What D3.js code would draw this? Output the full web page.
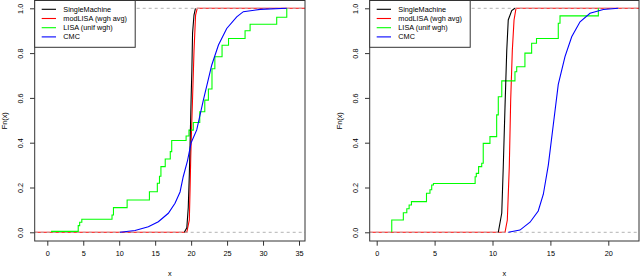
<!DOCTYPE html>
<html>
<head>
<meta charset="utf-8">
<script src="https://cdn.jsdelivr.net/npm/d3@7"></script>
<style>
body { margin: 0; background: #fff; }
svg { display: block; }
text { font-family: "Liberation Sans", Arial, sans-serif; font-size: 7.3px; fill: #000; }
</style>
</head>
<body>
<svg id="chart" width="640" height="277"></svg>
<script>
// series names and colours (legend order)
var seriesNames = ['SingleMachine', 'modLISA (wgh avg)', 'LISA (unif wgh)', 'CMC'];
var seriesColors = ['black', 'red', '#00ff00', 'blue'];
var yTicks = [0, 0.2, 0.4, 0.6, 0.8, 1.0];

// left panel, [x, Fn(x)]
var leftSingle = [[19.05,0],[19.4,0.02],[19.6,0.11],[19.75,0.26],[19.88,0.43],[20.0,0.6],[20.1,0.72],[20.2,0.89],[20.4,0.97],[20.6,1]];
var leftMod = [[19.4,0],[19.75,0.055],[19.85,0.19],[19.95,0.34],[20.05,0.45],[20.2,0.6],[20.4,0.81],[20.62,0.97],[20.85,1]];
var leftLisa = [[0.6,0],[0.6,0.004],[4.3,0.03],[4.5,0.045],[4.8,0.058],[9.0,0.077],[9.2,0.11],[11.1,0.144],[14.2,0.181],
    [15.3,0.219],[15.6,0.25],[15.8,0.293],[16.4,0.327],[17.1,0.36],[17.3,0.41],[19.3,0.43],[19.7,0.456],[20.3,0.49],
    [21.2,0.538],[21.9,0.59],[22.4,0.64],[22.9,0.73],[23.3,0.784],[24.3,0.835],[25.2,0.865],[27.5,0.9],[28.2,0.929],
    [31.9,0.96],[33.3,1]];
var leftCmc = [[10.1,0],[12.2,0.008],[14.05,0.025],[15.44,0.047],[16.83,0.085],[17.76,0.13],[18.46,0.18],[18.9,0.248],
    [19.5,0.32],[20.0,0.4],[20.78,0.457],[21.7,0.59],[22.87,0.747],[23.8,0.836],[24.95,0.91],[26.34,0.962],
    [27.26,0.985],[29.6,0.995],[33.3,1]];

// right panel
var rightSingle = [[10.5,0],[10.8,0.086],[10.93,0.293],[11.08,0.56],[11.23,0.81],[11.36,0.948],[11.66,0.99],[11.94,1]];
var rightMod = [[11.08,0],[11.28,0.055],[11.45,0.293],[11.57,0.59],[11.71,0.81],[11.86,0.948],[12.03,1]];
var rightLisa = [[1.3,0],[1.3,0.055],[2.3,0.0875],[2.6,0.105],[2.8,0.122],[3.0,0.137],[4.3,0.174],[4.6,0.19],[4.75,0.211],
    [4.9,0.218],[8.5,0.248],[8.6,0.263],[8.8,0.293],[9.07,0.308],[9.2,0.397],[9.78,0.427],[10.36,0.524],[10.5,0.605],
    [10.8,0.676],[11.94,0.717],[12.09,0.739],[12.8,0.8],[13.38,0.844],[13.8,0.865],[15.68,0.933],[15.83,0.966],[19.14,1]];
var rightCmc = [[11.37,0],[12.37,0.01],[13.24,0.045],[13.95,0.095],[14.39,0.17],[14.82,0.3],[15.25,0.48],[15.68,0.66],
    [16.26,0.784],[16.84,0.873],[17.56,0.94],[18.42,0.978],[19.57,0.995],[20.86,1]];

var svg = d3.select('#chart');

function panel(p) {
    var x = d3.scaleLinear().domain(p.xDomain).range(p.xRange),
        y = d3.scaleLinear().domain([0, 1]).range([232.3, 8.3]);
    var box = {'left': p.boxLeft, 'right': p.boxRight, 'top': 0.5, 'bottom': 241};
    var g = svg.append('g');

    g.append('clipPath').attr('id', p.id)
        .append('rect')
        .attr('x', box.left).attr('y', box.top)
        .attr('width', box.right - box.left).attr('height', box.bottom - box.top);

    var plot = g.append('g').attr('clip-path', 'url(#' + p.id + ')');

    var smooth = d3.line().x(function(d) { return x(d[0]); }).y(function(d) { return y(d[1]); });
    // ecdf steps: flat until the next knot, then jump
    var step = d3.line().x(function(d) { return x(d[0]); }).y(function(d) { return y(d[1]); })
        .curve(d3.curveStepAfter);

    // modLISA is the main ecdf plot: it runs across the whole frame
    var xLo = x.invert(box.left), xHi = x.invert(box.right);
    var modFull = [[xLo, 0]].concat(p.mod, [[xHi, 1]]);
    plot.append('path').attr('d', smooth(modFull))
        .attr('fill', 'none').attr('stroke', seriesColors[1]).attr('stroke-width', 1.1);

    // grey dashed lines at 0 and 1
    [0, 1].forEach(function(h) {
        plot.append('line')
            .attr('x1', box.left).attr('x2', box.right)
            .attr('y1', y(h)).attr('y2', y(h))
            .attr('stroke', '#b3b3b3').attr('stroke-width', 1)
            .attr('stroke-dasharray', '3,3');
    });

    plot.append('path').attr('d', step(p.lisa))
        .attr('fill', 'none').attr('stroke', seriesColors[2]).attr('stroke-width', 1.1);
    plot.append('path').attr('d', smooth(p.single))
        .attr('fill', 'none').attr('stroke', seriesColors[0]).attr('stroke-width', 1.1);
    plot.append('path').attr('d', smooth(p.cmc))
        .attr('fill', 'none').attr('stroke', seriesColors[3]).attr('stroke-width', 1.1);

    // frame
    g.append('rect')
        .attr('x', box.left).attr('y', box.top)
        .attr('width', box.right - box.left).attr('height', box.bottom - box.top)
        .attr('fill', 'none').attr('stroke', '#333').attr('stroke-width', 1);

    // x axis
    var xa = g.append('g').attr('transform', 'translate(0,' + box.bottom + ')')
        .call(d3.axisBottom(x).tickValues(p.xTicks).tickSize(4.7).tickPadding(5).tickFormat(d3.format('d')));
    xa.select('.domain').remove();
    xa.selectAll('line').attr('stroke', '#333');
    xa.selectAll('text').style('font-size', '7.3px').attr('fill', '#000');

    // y axis, labels turned like R's las = 0
    var ya = g.append('g').attr('transform', 'translate(' + box.left + ',0)')
        .call(d3.axisLeft(y).tickValues(yTicks).tickSize(4.7).tickFormat(d3.format('.1f')));
    ya.select('.domain').remove();
    ya.selectAll('line').attr('stroke', '#333');
    ya.selectAll('text')
        .attr('x', null)
        .attr('text-anchor', 'middle')
        .attr('transform', 'translate(-14,0) rotate(-90)')
        .attr('dy', '0.35em')
        .style('font-size', '7.3px').attr('fill', '#000');

    // axis titles
    g.append('text').attr('x', (box.left + box.right) / 2).attr('y', 275.5)
        .attr('text-anchor', 'middle').text('x');
    g.append('text')
        .attr('transform', 'translate(' + (box.left - 27.8) + ',' + ((box.top + box.bottom) / 2) + ') rotate(-90)')
        .attr('text-anchor', 'middle').text('Fn(x)');

    // legend
    var lg = g.append('g');
    lg.append('rect')
        .attr('x', box.left).attr('y', box.top)
        .attr('width', p.legendWidth).attr('height', 47.3 - box.top)
        .attr('fill', '#fff').attr('stroke', '#333').attr('stroke-width', 1);
    seriesNames.forEach(function(name, i) {
        var ly = 9.3 + i * 9.2;
        lg.append('line')
            .attr('x1', box.left + 7).attr('x2', box.left + 21.3)
            .attr('y1', ly).attr('y2', ly)
            .attr('stroke', seriesColors[i]).attr('stroke-width', 1.1);
        lg.append('text')
            .attr('x', box.left + 28.6).attr('y', ly)
            .attr('dy', '0.35em')
            .text(name);
    });
}

panel({
    'id': 'clipL', 'xDomain': [0, 35], 'xRange': [47.3, 299],
    'boxLeft': 34.7, 'boxRight': 305, 'xTicks': [0, 5, 10, 15, 20, 25, 30, 35],
    'single': leftSingle, 'mod': leftMod, 'lisa': leftLisa, 'cmc': leftCmc,
    'legendWidth': 100.5
});
panel({
    'id': 'clipR', 'xDomain': [0, 20], 'xRange': [376.7, 608.3],
    'boxLeft': 369.7, 'boxRight': 639, 'xTicks': [0, 5, 10, 15, 20],
    'single': rightSingle, 'mod': rightMod, 'lisa': rightLisa, 'cmc': rightCmc,
    'legendWidth': 100.5
});
</script>
</body>
</html>
